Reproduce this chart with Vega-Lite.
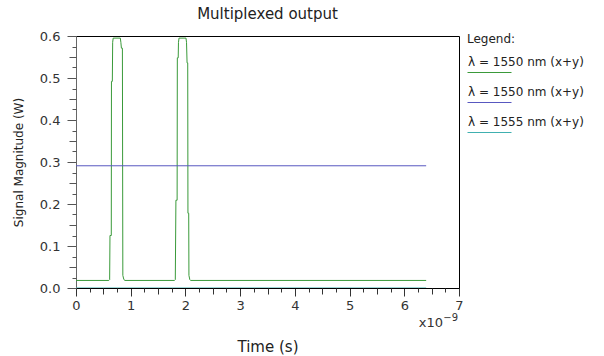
{
  "$schema": "https://vega.github.io/schema/vega-lite/v6.json",
  "width": 383,
  "height": 252,
  "autosize": {"type": "none"},
  "padding": {"left": 76, "top": 36, "right": 145, "bottom": 68},
  "background": "white",
  "config": {
    "font": "DejaVu Sans",
    "view": {"stroke": "black", "strokeWidth": 1},
    "style": {"guide-label": {"lineHeight": 20}}
  },
  "title": {"text": "Multiplexed output", "fontSize": 15, "fontWeight": "normal", "font": "DejaVu Sans", "color": "#222", "anchor": "middle", "offset": 8},
  "resolve": {"axis": {"x": "independent", "y": "independent"}},
  "layer": [
    {
      "data": {"values": [
        {"t": 0, "v": 0.018, "s": "a"},
        {"t": 0.60, "v": 0.018, "s": "a"},
        {"t": 0.615, "v": 0.02, "s": "a"},
        {"t": 0.621, "v": 0.125, "s": "a"},
        {"t": 0.645, "v": 0.125, "s": "a"},
        {"t": 0.648, "v": 0.492, "s": "a"},
        {"t": 0.664, "v": 0.492, "s": "a"},
        {"t": 0.67, "v": 0.585, "s": "a"},
        {"t": 0.68, "v": 0.595, "s": "a"},
        {"t": 0.81, "v": 0.595, "s": "a"},
        {"t": 0.82, "v": 0.585, "s": "a"},
        {"t": 0.83, "v": 0.571, "s": "a"},
        {"t": 0.848, "v": 0.571, "s": "a"},
        {"t": 0.856, "v": 0.03, "s": "a"},
        {"t": 0.875, "v": 0.02, "s": "a"},
        {"t": 0.895, "v": 0.018, "s": "a"},
        {"t": 1.80, "v": 0.018, "s": "a"},
        {"t": 1.815, "v": 0.02, "s": "a"},
        {"t": 1.826, "v": 0.209, "s": "a"},
        {"t": 1.848, "v": 0.209, "s": "a"},
        {"t": 1.852, "v": 0.548, "s": "a"},
        {"t": 1.868, "v": 0.548, "s": "a"},
        {"t": 1.873, "v": 0.585, "s": "a"},
        {"t": 1.883, "v": 0.595, "s": "a"},
        {"t": 2.01, "v": 0.595, "s": "a"},
        {"t": 2.02, "v": 0.585, "s": "a"},
        {"t": 2.03, "v": 0.536, "s": "a"},
        {"t": 2.042, "v": 0.536, "s": "a"},
        {"t": 2.046, "v": 0.178, "s": "a"},
        {"t": 2.06, "v": 0.178, "s": "a"},
        {"t": 2.064, "v": 0.03, "s": "a"},
        {"t": 2.08, "v": 0.02, "s": "a"},
        {"t": 2.094, "v": 0.018, "s": "a"},
        {"t": 6.4, "v": 0.018, "s": "a"},
        {"t": 0, "v": 0.291, "s": "b"},
        {"t": 6.4, "v": 0.291, "s": "b"},
        {"t": 0, "v": 0.0, "s": "c"},
        {"t": 6.4, "v": 0.0, "s": "c"}
      ]},
      "mark": {"type": "line", "strokeWidth": 1, "clip": true},
      "encoding": {
        "x": {
          "field": "t", "type": "quantitative",
          "scale": {"domain": [0, 7], "nice": false, "zero": false},
          "axis": {
            "orient": "bottom",
            "title": "Time (s)",
            "titleFont": "DejaVu Sans", "titleFontSize": 15, "titleFontWeight": "normal", "titleColor": "#222",
            "titlePadding": 27,
            "values": [0, 1, 2, 3, 4, 5, 6, 7],
            "format": "d",
            "labelFont": "DejaVu Sans", "labelFontSize": 13, "labelColor": "#333", "labelPadding": 3,
            "labelFlush": false, "labelOverlap": false,
            "tickSize": 8, "tickColor": "#333", "domainColor": "black", "grid": false
          }
        },
        "y": {
          "field": "v", "type": "quantitative",
          "scale": {"domain": [0, 0.6], "nice": false},
          "axis": {
            "orient": "left",
            "title": "Signal Magnitude (W)",
            "titleFont": "DejaVu Sans", "titleFontSize": 12, "titleFontWeight": "normal", "titleColor": "#222",
            "titlePadding": 14,
            "values": [0, 0.1, 0.2, 0.3, 0.4, 0.5, 0.6],
            "format": ".1f",
            "labelFont": "DejaVu Sans", "labelFontSize": 13, "labelColor": "#333", "labelPadding": 7,
            "labelFlush": false, "labelOverlap": false,
            "tickSize": 9, "tickColor": "#555", "domainColor": "#666", "grid": false
          }
        },
        "color": {
          "field": "s", "type": "nominal",
          "scale": {"domain": ["a", "b", "c"], "range": ["#3a9a3a", "#5858c0", "#40b0b0"]},
          "legend": {
            "orient": "none", "legendX": 391, "legendY": -2,
            "title": "Legend:", "titleFont": "DejaVu Sans", "titleFontSize": 12, "titleFontWeight": "normal", "titleColor": "#222", "titlePadding": 4,
            "symbolType": "stroke", "symbolSize": 1936, "symbolStrokeWidth": 1,
            "labelExpr": "datum.value === 'c' ? 'λ = 1555 nm (x+y)' : 'λ = 1550 nm (x+y)'",
            "labelFont": "DejaVu Sans", "labelFontSize": 12, "labelColor": "#222",
            "labelBaseline": "line-bottom", "labelOffset": -44,
            "rowPadding": 5, "padding": 0, "offset": 0, "labelLimit": 200
          }
        }
      }
    },
    {
      "data": {"values": [{"label": "x10"}]},
      "mark": {"type": "text", "align": "right", "baseline": "alphabetic", "dy": 39, "dx": -16, "fontSize": 13, "font": "DejaVu Sans", "color": "#333"},
      "encoding": {
        "text": {"field": "label", "type": "nominal"},
        "x": {
          "datum": 7, "type": "quantitative",
          "axis": {
            "orient": "bottom", "title": null, "labels": false, "domain": false, "grid": false,
            "values": [0.25,0.75,1.25,1.75,2.25,2.75,3.25,3.75,4.25,4.75,5.25,5.75,6.25,6.75],
            "tickSize": 4, "tickColor": "#333"
          }
        },
        "y": {
          "datum": 0, "type": "quantitative",
          "axis": {
            "orient": "left", "title": null, "labels": false, "domain": false, "grid": false,
            "values": [0.025,0.075,0.125,0.175,0.225,0.275,0.325,0.375,0.425,0.475,0.525,0.575],
            "tickSize": 4, "tickColor": "#555"
          }
        }
      }
    },
    {
      "data": {"values": [{"label": "−9"}]},
      "mark": {"type": "text", "align": "right", "baseline": "alphabetic", "dy": 33, "dx": -1, "fontSize": 10, "font": "DejaVu Sans", "color": "#333"},
      "encoding": {
        "text": {"field": "label", "type": "nominal"},
        "x": {
          "datum": 7, "type": "quantitative",
          "axis": {
            "orient": "bottom", "title": null, "labels": false, "domain": false, "grid": false,
            "values": [0.5,1.5,2.5,3.5,4.5,5.5,6.5],
            "tickSize": 6, "tickColor": "#333"
          }
        },
        "y": {
          "datum": 0, "type": "quantitative",
          "axis": {
            "orient": "left", "title": null, "labels": false, "domain": false, "grid": false,
            "values": [0.05,0.15,0.25,0.35,0.45,0.55],
            "tickSize": 7, "tickColor": "#555"
          }
        }
      }
    }
  ]
}
